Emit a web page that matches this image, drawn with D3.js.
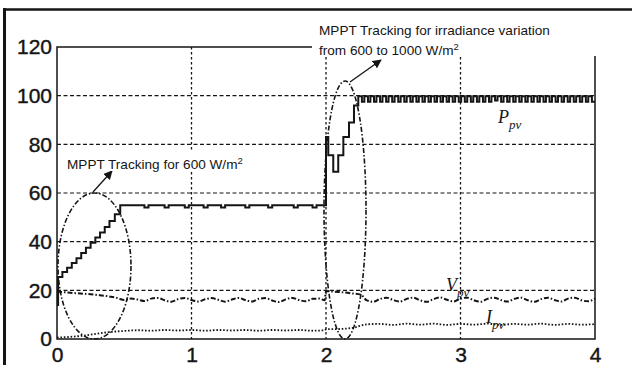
<!DOCTYPE html>
<html>
<head>
<meta charset="utf-8">
<script src="https://cdn.jsdelivr.net/npm/d3@7/dist/d3.min.js"></script>
<style>
  html, body { margin: 0; padding: 0; background: #fff; }
  svg { display: block; }
</style>
</head>
<body>
<svg id="chart" width="632" height="365"></svg>
<script>
// ---------------- DATA ----------------
const xTicks = [0, 1, 2, 3, 4];
const yTicks = [0, 20, 40, 60, 80, 100, 120];
const xGrid = [1, 2, 3];
const yGrid = [20, 40, 60, 80, 100];

// P_pv (step series: [time, value] - value holds until next time)
const pSteps = [
  [0, 14], [0.008, 25.5], [0.04, 27.5], [0.075, 29.3], [0.11, 31.2], [0.145, 33.2],
  [0.18, 35.3], [0.215, 37.5], [0.25, 39.6], [0.285, 41.7], [0.32, 43.8], [0.355, 46],
  [0.39, 48.5], [0.43, 51.3], [0.47, 55],
  [0.65, 54], [0.68, 55], [0.80, 54], [0.83, 55], [0.95, 54], [0.98, 55],
  [1.09, 54], [1.12, 55], [1.22, 54], [1.25, 55], [1.40, 54], [1.43, 55],
  [1.57, 54], [1.60, 55], [1.76, 54], [1.79, 55], [1.90, 54], [1.93, 55],
  [2.0, 83], [2.017, 75.5], [2.054, 68.7], [2.091, 75.5], [2.129, 83], [2.171, 89], [2.208, 96],
  [2.240, 99.8], [2.267, 97.5], [2.285, 99.8], [2.312, 97.5], [2.330, 99.8], [2.357, 97.5],
  [2.375, 99.8], [2.402, 97.5], [2.420, 99.8], [2.447, 97.5], [2.465, 99.8], [2.492, 97.5],
  [2.510, 99.8], [2.537, 97.5], [2.555, 99.8], [2.582, 97.5], [2.600, 99.8], [2.627, 97.5],
  [2.645, 99.8], [2.672, 97.5], [2.690, 99.8], [2.717, 97.5], [2.735, 99.8], [2.762, 97.5],
  [2.780, 99.8], [2.807, 97.5], [2.825, 99.8], [2.852, 97.5], [2.870, 99.8], [2.897, 97.5],
  [2.915, 99.8], [2.942, 97.5], [2.960, 99.8], [2.987, 97.5], [3.005, 99.8], [3.032, 97.5],
  [3.050, 99.8], [3.077, 97.5], [3.095, 99.8], [3.122, 97.5], [3.140, 99.8], [3.167, 97.5],
  [3.185, 99.8], [3.212, 97.5], [3.230, 99.8], [3.257, 98.0], [3.275, 99.8], [3.302, 97.5],
  [3.320, 99.8], [3.347, 97.5], [3.365, 99.8], [3.392, 97.5], [3.410, 99.8], [3.437, 97.5],
  [3.455, 99.8], [3.482, 97.5], [3.500, 99.8], [3.527, 97.5], [3.545, 99.8], [3.572, 97.5],
  [3.590, 99.8], [3.617, 97.5], [3.635, 99.8], [3.662, 97.5], [3.680, 99.8], [3.707, 97.5],
  [3.725, 99.8], [3.752, 97.5], [3.770, 99.8], [3.797, 97.5], [3.815, 99.8], [3.842, 97.5],
  [3.860, 99.8], [3.887, 97.5], [3.905, 99.8], [3.932, 97.5], [3.950, 99.8], [3.977, 97.5],
  [4.0, 97.5]
];

// V_pv
const vSeries = [
  [0, 19.5], [0.1, 19.0], [0.2, 18.6], [0.3, 18.1], [0.4, 17.4], [0.45, 16.8], [0.5, 16.0],
  [0.55, 16.6], [0.6, 16.2], [0.65, 15.6], [0.7, 16.6], [0.75, 16.9], [0.8, 15.9], [0.85, 15.3],
  [0.9, 16.4], [0.95, 16.9], [1.0, 16.0], [1.05, 15.4], [1.1, 16.3], [1.15, 16.8], [1.2, 16.1],
  [1.25, 15.3], [1.3, 16.2], [1.35, 16.9], [1.4, 16.0], [1.45, 15.4], [1.5, 16.5], [1.55, 16.8],
  [1.6, 15.8], [1.65, 15.2], [1.7, 16.3], [1.75, 16.9], [1.8, 16.0], [1.85, 15.5], [1.9, 16.5],
  [1.95, 16.6], [1.99, 15.9], [2.0, 19.6], [2.1, 19.3], [2.2, 18.7], [2.26, 18.2], [2.3, 16.0],
  [2.35, 15.3], [2.4, 16.4], [2.45, 17.0], [2.5, 16.0], [2.55, 15.4], [2.6, 16.5], [2.65, 17.0],
  [2.7, 15.9], [2.75, 15.3], [2.8, 16.4], [2.85, 17.1], [2.9, 16.1], [2.95, 15.4], [3.0, 16.6],
  [3.05, 17.0], [3.1, 15.9], [3.15, 15.3], [3.2, 16.5], [3.25, 17.0], [3.3, 16.0], [3.35, 15.4],
  [3.4, 16.5], [3.45, 17.0], [3.5, 15.9], [3.55, 15.3], [3.6, 16.4], [3.65, 17.0], [3.7, 16.0],
  [3.75, 15.4], [3.8, 16.6], [3.85, 17.0], [3.9, 15.9], [3.95, 15.5], [4.0, 16.6]
];

// I_pv
const iSeries = [
  [0, 0.6], [0.1, 0.9], [0.2, 1.4], [0.3, 2.2], [0.4, 2.9], [0.5, 3.3], [0.6, 3.6], [0.7, 3.4],
  [0.8, 3.7], [0.9, 3.5], [1.0, 3.7], [1.1, 3.4], [1.2, 3.7], [1.3, 3.5], [1.4, 3.7], [1.5, 3.4],
  [1.6, 3.7], [1.7, 3.5], [1.8, 3.7], [1.9, 3.4], [1.99, 3.6], [2.0, 4.0], [2.1, 4.1], [2.2, 4.6],
  [2.3, 6.0], [2.4, 6.2], [2.5, 5.8], [2.6, 6.3], [2.7, 5.9], [2.8, 6.3], [2.9, 5.8], [3.0, 6.2],
  [3.1, 5.9], [3.2, 6.3], [3.3, 5.8], [3.4, 6.2], [3.5, 5.9], [3.6, 6.3], [3.7, 5.8], [3.8, 6.2],
  [3.9, 5.9], [4.0, 6.1]
];

// ---------------- DRAW ----------------
const ink = "#151515";
const svg = d3.select("#chart");
const x = d3.scaleLinear().domain([0, 4]).range([57, 595]);
const y = d3.scaleLinear().domain([0, 120]).range([339, 47]);

// outer frame (top and left)
svg.append("line").attr("x1", 3).attr("x2", 632).attr("y1", 9.5).attr("y2", 9.5)
  .attr("stroke", ink).attr("stroke-width", 2.5);
svg.append("line").attr("x1", 4.5).attr("x2", 4.5).attr("y1", 8).attr("y2", 365)
  .attr("stroke", ink).attr("stroke-width", 3);

// grid
svg.append("g").selectAll("line").data(yGrid).join("line")
  .attr("x1", x(0)).attr("x2", x(4)).attr("y1", d => y(d)).attr("y2", d => y(d))
  .attr("stroke", ink).attr("stroke-width", 1.2).attr("stroke-dasharray", "4,2.5");
svg.append("g").selectAll("line").data(xGrid).join("line")
  .attr("x1", d => x(d)).attr("x2", d => x(d)).attr("y1", y(120)).attr("y2", y(0))
  .attr("stroke", ink).attr("stroke-width", 1.3).attr("stroke-dasharray", "2.5,2.5");

// axes box
svg.append("rect").attr("x", x(0)).attr("y", y(120)).attr("width", x(4) - x(0)).attr("height", y(0) - y(120))
  .attr("fill", "none").attr("stroke", ink).attr("stroke-width", 1.5);

// series
const pLine = d3.line().x(d => x(d[0])).y(d => y(d[1])).curve(d3.curveStepAfter);
svg.append("path").datum(pSteps).attr("d", pLine)
  .attr("fill", "none").attr("stroke", ink).attr("stroke-width", 2);

const smooth = d3.line().x(d => x(d[0])).y(d => y(d[1])).curve(d3.curveMonotoneX);
svg.append("path").datum(vSeries).attr("d", smooth)
  .attr("fill", "none").attr("stroke", ink).attr("stroke-width", 2)
  .attr("stroke-dasharray", "5,2,1.5,2");
svg.append("path").datum(iSeries).attr("d", smooth)
  .attr("fill", "none").attr("stroke", ink).attr("stroke-width", 1.8)
  .attr("stroke-dasharray", "1.6,1.8");

// axis labels
const yAxis = d3.axisLeft(y).tickValues(yTicks).tickSize(0).tickPadding(5).tickFormat(d3.format("d"));
const gy = svg.append("g").attr("transform", `translate(${x(0)},0)`).call(yAxis);
const xAxis = d3.axisBottom(x).tickValues(xTicks).tickSize(0).tickPadding(8).tickFormat(d3.format("d"));
const gx = svg.append("g").attr("transform", `translate(0,${y(0)})`).call(xAxis);
[gx, gy].forEach(g => {
  g.select(".domain").remove();
  g.selectAll("text").attr("font-family", "Liberation Sans, Arial, sans-serif")
    .attr("font-size", 21).attr("fill", ink).attr("stroke", ink).attr("stroke-width", 0.4);
});

// ellipses
function ellipse(cxv, cyv, rx, ry) {
  svg.append("ellipse").attr("cx", cxv).attr("cy", cyv).attr("rx", rx).attr("ry", ry)
    .attr("fill", "none").attr("stroke", ink).attr("stroke-width", 1.6)
    .attr("stroke-dasharray", "5,2,1.5,2");
}
ellipse(94.5, 266, 36.5, 73);
ellipse(345, 210, 21, 129);

// arrows
svg.append("defs").append("marker").attr("id", "ah").attr("viewBox", "0 0 10 10")
  .attr("refX", 9).attr("refY", 5).attr("markerWidth", 9).attr("markerHeight", 9)
  .attr("markerUnits", "userSpaceOnUse").attr("orient", "auto")
  .append("path").attr("d", "M0,0 L10,5 L0,10 z").attr("fill", ink);
function arrow(x1, y1, x2, y2) {
  svg.append("line").attr("x1", x1).attr("y1", y1).attr("x2", x2).attr("y2", y2)
    .attr("stroke", ink).attr("stroke-width", 1.3).attr("marker-end", "url(#ah)");
}
arrow(93, 192, 112, 171);
arrow(350, 82, 381, 60);

// annotation text with white backgrounds
svg.append("rect").attr("x", 64).attr("y", 151).attr("width", 186).attr("height", 20).attr("fill", "#fff");
svg.append("rect").attr("x", 312).attr("y", 13).attr("width", 320).attr("height", 43).attr("fill", "#fff");

const font = "Liberation Sans, Arial, sans-serif";
function annot(tx, ty, main, sup) {
  const t = svg.append("text").attr("x", tx).attr("y", ty).attr("font-family", font)
    .attr("font-size", 13.6).attr("fill", ink);
  t.append("tspan").text(main);
  if (sup) t.append("tspan").attr("dy", -5).attr("font-size", 9.5).text(sup);
}
annot(67, 168.5, "MPPT Tracking for 600 W/m", "2");
annot(319, 35, "MPPT Tracking for irradiance variation", null);
annot(319, 55, "from 600 to 1000 W/m", "2");

// series labels
function seriesLabel(tx, ty, main, sub) {
  const t = svg.append("text").attr("x", tx).attr("y", ty)
    .attr("font-family", "Liberation Serif, Times New Roman, serif").attr("font-style", "italic")
    .attr("font-size", 18).attr("fill", ink);
  t.append("tspan").text(main);
  t.append("tspan").attr("dy", 6).attr("font-size", 13).text(sub);
}
seriesLabel(498, 123, "P", "pv");
seriesLabel(446, 291, "V", "pv");
seriesLabel(486, 323, "I", "pv");
</script>
</body>
</html>
